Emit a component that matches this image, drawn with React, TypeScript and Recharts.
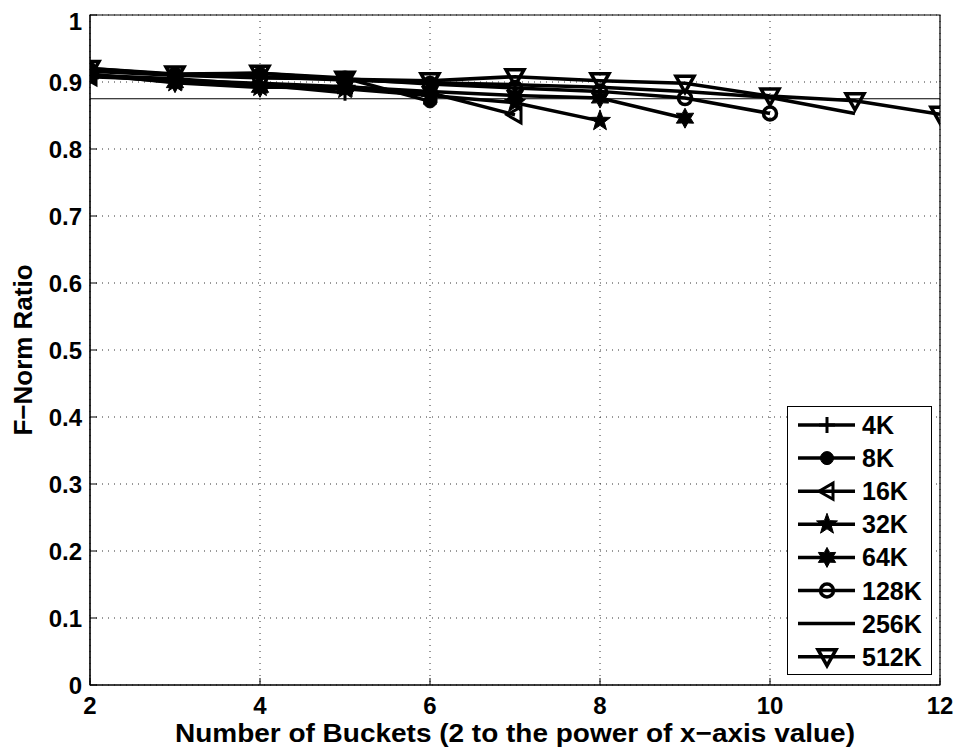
import React from 'react';
import {
  LineChart,
  Line,
  XAxis,
  YAxis,
  CartesianGrid,
  ReferenceLine,
  ReferenceArea,
} from 'recharts';

const xTicks = [2, 4, 6, 8, 10, 12];
const yTicks = [0, 0.1, 0.2, 0.3, 0.4, 0.5, 0.6, 0.7, 0.8, 0.9, 1];
const startX = 2;

const seriesNames = ['4K', '8K', '16K', '32K', '64K', '128K', '256K', '512K'];
const markerTypes = ['plus', 'dot', 'triLeft', 'star', 'hexagram', 'circle', 'none', 'triDown'];

const s4K = [0.910, 0.905, 0.896, 0.884];
const s8K = [0.920, 0.911, 0.913, 0.906, 0.871];
const s16K = [0.908, 0.903, 0.898, 0.893, 0.884, 0.851];
const s32K = [0.910, 0.900, 0.893, 0.890, 0.880, 0.869, 0.842];
const s64K = [0.912, 0.899, 0.892, 0.893, 0.886, 0.880, 0.876, 0.846];
const s128K = [0.916, 0.910, 0.906, 0.905, 0.897, 0.891, 0.886, 0.876, 0.853];
const s256K = [0.918, 0.911, 0.908, 0.903, 0.899, 0.896, 0.892, 0.886, 0.877, 0.853];
const s512K = [0.920, 0.912, 0.913, 0.904, 0.902, 0.908, 0.902, 0.898, 0.879, 0.872, 0.852];

const allSeries = [s4K, s8K, s16K, s32K, s64K, s128K, s256K, s512K];
const refValue = 0.875;

const xTitle = 'Number of Buckets (2 to the power of x\u2212axis value)';
const yTitle = 'F\u2212Norm Ratio';

const FONT = '"Liberation Sans", Arial, sans-serif';

function Marker({ type, cx, cy }: { type: string; cx: number; cy: number }) {
  if (cx == null || cy == null || isNaN(cx) || isNaN(cy)) return null;
  switch (type) {
    case 'plus':
      return (
        <g stroke="#000" strokeWidth={3}>
          <line x1={cx - 8} y1={cy} x2={cx + 8} y2={cy} />
          <line x1={cx} y1={cy - 8} x2={cx} y2={cy + 8} />
        </g>
      );
    case 'dot':
      return <circle cx={cx} cy={cy} r={6.5} fill="#000" stroke="#000" />;
    case 'triLeft':
      return (
        <polygon
          points={`${cx - 8},${cy} ${cx + 6},${cy - 8} ${cx + 6},${cy + 8}`}
          fill="none"
          stroke="#000"
          strokeWidth={3}
        />
      );
    case 'star': {
      const pts: string[] = [];
      for (let i = 0; i < 10; i++) {
        const r = i % 2 === 0 ? 11 : 4.5;
        const a = -Math.PI / 2 + (i * Math.PI) / 5;
        pts.push(`${cx + r * Math.cos(a)},${cy + r * Math.sin(a)}`);
      }
      return <polygon points={pts.join(' ')} fill="#000" stroke="#000" strokeWidth={1} />;
    }
    case 'hexagram': {
      const pts: string[] = [];
      for (let i = 0; i < 12; i++) {
        const r = i % 2 === 0 ? 10 : 5.5;
        const a = -Math.PI / 2 + (i * Math.PI) / 6;
        pts.push(`${cx + r * Math.cos(a)},${cy + r * Math.sin(a)}`);
      }
      return <polygon points={pts.join(' ')} fill="#000" stroke="#000" strokeWidth={1} />;
    }
    case 'circle':
      return <circle cx={cx} cy={cy} r={6.5} fill="none" stroke="#000" strokeWidth={3.5} />;
    case 'triDown':
      return (
        <polygon
          points={`${cx - 9},${cy - 7} ${cx + 9},${cy - 7} ${cx},${cy + 9}`}
          fill="none"
          stroke="#000"
          strokeWidth={3.5}
        />
      );
    default:
      return null;
  }
}

function LegendBox() {
  const rowH = 33.1;
  return (
    <div
      style={{
        position: 'absolute',
        left: 779,
        top: 398,
        width: 145,
        height: 269,
        border: '1.5px solid #000',
        background: '#fff',
        boxSizing: 'border-box',
      }}
    >
      <svg width={142} height={266} style={{ display: 'block' }}>
        {seriesNames.map((name, i) => {
          const y = 18 + i * rowH;
          return (
            <g key={name}>
              <line x1={10} y1={y} x2={67} y2={y} stroke="#000" strokeWidth={3.5} />
              <Marker type={markerTypes[i]} cx={39} cy={y} />
              <text
                x={74}
                y={y + 9}
                fontFamily={FONT}
                fontWeight="bold"
                fontSize={25}
                fill="#000"
              >
                {name}
              </text>
            </g>
          );
        })}
      </svg>
    </div>
  );
}

const tickStyle = { fontFamily: FONT, fontWeight: 'bold' as const, fontSize: 24, fill: '#000' };

function XTitle(props: any) {
  const vb = props.viewBox || {};
  const cx = (vb.x ?? 82) + (vb.width ?? 850) / 2;
  return (
    <text
      x={cx}
      y={734}
      textAnchor="middle"
      fontFamily={FONT}
      fontWeight="bold"
      fontSize={26}
      fill="#000"
      textLength={680}
      lengthAdjust="spacingAndGlyphs"
    >
      {xTitle}
    </text>
  );
}

function YTitle(props: any) {
  const vb = props.viewBox || {};
  const cy = (vb.y ?? 7) + (vb.height ?? 670) / 2;
  const x = 24;
  return (
    <text
      x={x}
      y={cy}
      transform={`rotate(-90 ${x} ${cy})`}
      textAnchor="middle"
      fontFamily={FONT}
      fontWeight="bold"
      fontSize={26}
      fill="#000"
    >
      {yTitle}
    </text>
  );
}

export default function App() {
  return (
    <div style={{ position: 'relative', width: 946, height: 745 }}>
      <LineChart
        width={946}
        height={745}
        margin={{ top: 7, right: 14, left: 0, bottom: 8 }}
        style={{ background: '#fff' }}
      >
        <CartesianGrid
          xAxisId="bottom"
          yAxisId="left"
          stroke="#333"
          strokeDasharray="1 5"
        />
        <XAxis
          xAxisId="bottom"
          type="number"
          dataKey="x"
          domain={[2, 12]}
          ticks={xTicks}
          allowDataOverflow
          height={60}
          stroke="#000"
          tickSize={-7}
          tickMargin={19}
          tick={tickStyle}
          label={<XTitle />}
        />
        <YAxis
          yAxisId="left"
          type="number"
          domain={[0, 1]}
          ticks={yTicks}
          width={82}
          stroke="#000"
          tickSize={-7}
          tickMargin={15}
          tick={tickStyle}
          tickFormatter={(v: number) => (v === 0 ? '0' : v === 1 ? '1' : v.toFixed(1))}
          label={<YTitle />}
        />
        <ReferenceArea
          xAxisId="bottom"
          yAxisId="left"
          x1={2}
          x2={12}
          y1={0}
          y2={1}
          fill="none"
          fillOpacity={0}
          stroke="#000"
          strokeWidth={1.2}
        />
        <ReferenceLine
          xAxisId="bottom"
          yAxisId="left"
          y={refValue}
          stroke="#000"
          strokeWidth={1.2}
        />
        {allSeries.map((vals, si) => (
          <Line
            key={seriesNames[si]}
            xAxisId="bottom"
            yAxisId="left"
            name={seriesNames[si]}
            data={vals.map((v, i) => ({ x: startX + i, y: v }))}
            dataKey="y"
            stroke="#000"
            strokeWidth={3.5}
            isAnimationActive={false}
            dot={(p: any) => (
              <Marker key={`${si}-${p.index}`} type={markerTypes[si]} cx={p.cx} cy={p.cy} />
            )}
            activeDot={false}
          />
        ))}
      </LineChart>
      <LegendBox />
    </div>
  );
}
